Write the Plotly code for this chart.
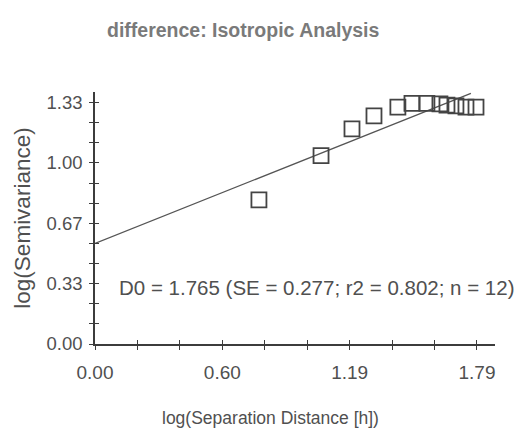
import plotly.graph_objects as go

# Data
lag_x = [0.768, 1.059, 1.204, 1.307, 1.419, 1.485, 1.555, 1.616, 1.649, 1.691, 1.738, 1.785]
semi_y = [0.796, 1.041, 1.188, 1.260, 1.309, 1.329, 1.329, 1.326, 1.320, 1.315, 1.309, 1.309]
fit_x = [0.0, 1.761]
fit_y = [0.556, 1.384]

x_step = 1.7896 / 9
x_tickvals = [i * x_step for i in range(10)]
x_ticktext = ["0.00", "", "", "0.60", "", "", "1.19", "", "", "1.79"]
y_tickvals = [i / 9 for i in range(13)]
y_ticktext = ["0.00", "", "", "0.33", "", "", "0.67", "", "", "1.00", "", "", "1.33"]

title_text = "difference: Isotropic Analysis"
stat_text = "D0 = 1.765 (SE = 0.277; r2 = 0.802; n = 12)"
x_title = "log(Separation Distance [h])"
y_title = "log(Semivariance)"

FONT = "Liberation Sans, Arial, sans-serif"
AX = "#3c3c3c"
TXT = "#505050"

fig = go.Figure()
fig.add_trace(go.Scatter(x=fit_x, y=fit_y, mode="lines",
                         line=dict(color="#555555", width=1.3), showlegend=False,
                         hoverinfo="skip"))
fig.add_trace(go.Scatter(x=lag_x, y=semi_y, mode="markers",
                         marker=dict(symbol="square-open", size=15, color="#444444",
                                     line=dict(width=1.8)),
                         showlegend=False))
# invisible trace to drive overlay axes for crossing ticks
fig.add_trace(go.Scatter(x=[0], y=[0], xaxis="x2", yaxis="y2", mode="markers",
                         marker=dict(opacity=0), showlegend=False, hoverinfo="skip"))

xr = [0, 1.874]
yr = [0, 1.392]

common = dict(showgrid=False, zeroline=False, ticklen=4, tickwidth=1.4, tickcolor=AX)

fig.update_layout(
    width=526, height=431,
    margin=dict(l=95, r=31, t=92, b=87),
    paper_bgcolor="white", plot_bgcolor="white",
    font=dict(family=FONT, color=TXT, size=17),
    xaxis=dict(range=xr, tickmode="array", tickvals=x_tickvals, ticktext=x_ticktext,
               ticks="outside", showline=True, linecolor=AX, linewidth=1.6,
               ticklabelstandoff=6, tickfont=dict(size=19, color=TXT), **common),
    yaxis=dict(range=yr, tickmode="array", tickvals=y_tickvals, ticktext=y_ticktext,
               ticks="outside", showline=True, linecolor=AX, linewidth=1.6,
               ticklabelstandoff=3, tickfont=dict(size=18.5, color=TXT),
               title=dict(text=y_title, font=dict(size=22.5, color=TXT), standoff=10),
               **common),
    xaxis2=dict(range=xr, overlaying="x", tickmode="array", tickvals=x_tickvals,
                ticks="inside", showticklabels=False, showline=False, **common),
    yaxis2=dict(range=yr, overlaying="y", tickmode="array", tickvals=y_tickvals,
                ticks="inside", showticklabels=False, showline=False, **common),
    annotations=[
        dict(text="<b>" + title_text + "</b>", xref="paper", yref="paper",
             x=(243 - 95) / 400, y=(344 - 30) / 252,
             showarrow=False, xanchor="center", yanchor="middle",
             font=dict(size=19.5, color="#7a7a7a")),
        dict(text=stat_text, xref="paper", yref="paper", x=(117 - 95) / 400, y=(344 - 287) / 252,
             showarrow=False, xanchor="left", yanchor="middle",
             font=dict(size=20.5, color=TXT)),
        dict(text=x_title, xref="paper", yref="paper", x=(270 - 95) / 400, y=(344 - 418) / 252,
             showarrow=False, xanchor="center", yanchor="middle",
             font=dict(size=17.5, color=TXT)),
    ],
)

fig.write_html("out.html")
